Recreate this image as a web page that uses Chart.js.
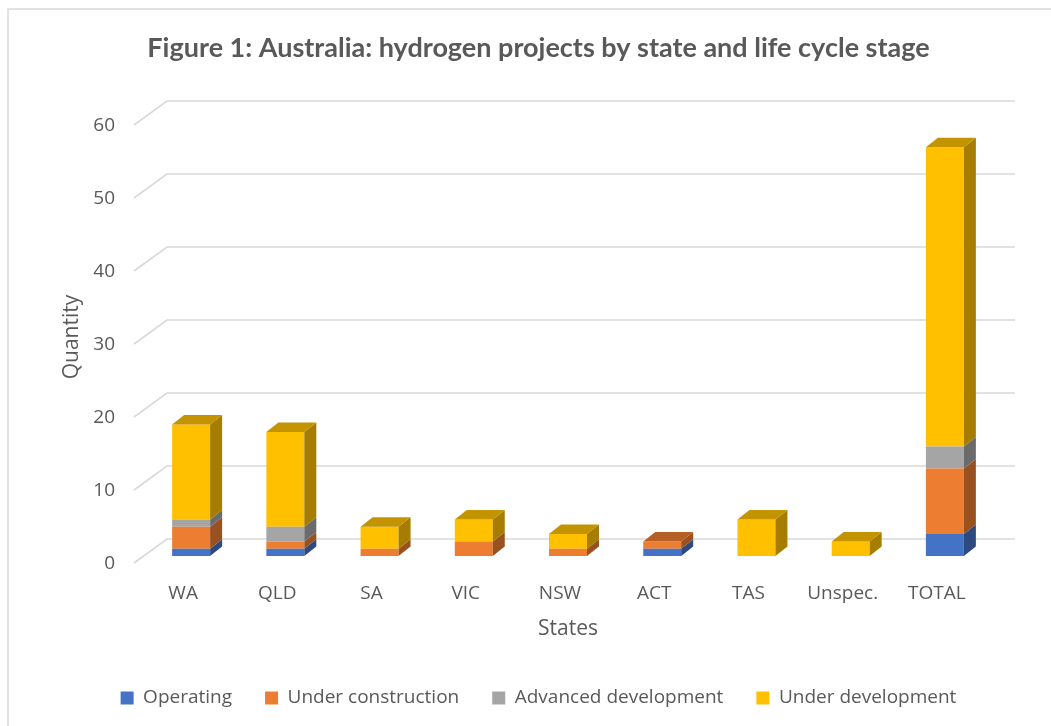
<!DOCTYPE html>
<html><head><meta charset="utf-8">
<script src="https://cdn.jsdelivr.net/npm/chart.js@4.4.0/dist/chart.umd.min.js"></script>
<style>html,body{margin:0;padding:0;background:#fff;}</style>
</head><body>
<canvas id="c" width="1051" height="726"></canvas>
<script>
const categories = ['WA','QLD','SA','VIC','NSW','ACT','TAS','Unspec.','TOTAL'];
const operating = [1,1,0,0,0,1,0,0,3];
const underConstruction = [3,1,1,2,1,1,0,0,9];
const advancedDevelopment = [1,2,0,0,0,0,0,0,3];
const underDevelopment = [13,13,3,3,2,0,5,2,41];
const seriesNames = ['Operating','Under construction','Advanced development','Under development'];
const seriesColors = ['#4472C4','#ED7D31','#A5A5A5','#FFC000'];
const yMin = 0, yMax = 60, yStep = 10;

function shade(hex, f){
  const n = parseInt(hex.slice(1),16);
  const r = Math.round(((n>>16)&255)*f), g = Math.round(((n>>8)&255)*f), b = Math.round((n&255)*f);
  return 'rgb('+r+','+g+','+b+')';
}
const TXT = '#595959';
const GRID = '#D9D9D9';

const depthPlugin = {
  id: 'depth3d',
  beforeDraw(chart){
    const ctx = chart.ctx;
    ctx.save();
    ctx.fillStyle = '#fff';
    ctx.fillRect(0,0,chart.width,chart.height);
    ctx.strokeStyle = GRID; ctx.lineWidth = 1.5;
    ctx.strokeRect(8, 9, chart.width + 20, chart.height + 20);
    ctx.restore();
  },
  beforeDatasetsDraw(chart){
    const ctx = chart.ctx, a = chart.chartArea, y = chart.scales.y;
    ctx.save();
    ctx.strokeStyle = GRID; ctx.lineWidth = 1.6;
    y.ticks.forEach(t => {
      const py = y.getPixelForValue(t.value);
      ctx.beginPath();
      ctx.moveTo(a.left - 10, py + 7);
      ctx.lineTo(a.left + 23, py - 17);
      ctx.lineTo(a.right + 23, py - 17);
      ctx.stroke();
    });
    ctx.restore();
  },
  afterDatasetsDraw(chart){
    const ctx = chart.ctx, DX = 12, DY = 9.5;
    ctx.save();
    const n = chart.data.labels.length;
    for (let i = 0; i < n; i++){
      let top = null, topColor = null;
      chart.data.datasets.forEach((ds, d) => {
        const el = chart.getDatasetMeta(d).data[i];
        if (!el || !ds.data[i]) return;
        const p = el.getProps(['x','y','base','width'], true);
        const r = p.x + p.width/2;
        ctx.fillStyle = shade(ds.backgroundColor, 0.65);
        ctx.beginPath();
        ctx.moveTo(r, p.base); ctx.lineTo(r + DX, p.base - DY);
        ctx.lineTo(r + DX, p.y - DY); ctx.lineTo(r, p.y); ctx.closePath();
        ctx.fill();
        top = p; topColor = ds.backgroundColor;
      });
      if (top){
        const l = top.x - top.width/2, r = top.x + top.width/2;
        ctx.fillStyle = shade(topColor, 0.77);
        ctx.beginPath();
        ctx.moveTo(l, top.y); ctx.lineTo(l + DX, top.y - DY);
        ctx.lineTo(r + DX, top.y - DY); ctx.lineTo(r, top.y); ctx.closePath();
        ctx.fill();
      }
    }
    ctx.restore();
  }
};

const seriesData = [operating, underConstruction, advancedDevelopment, underDevelopment];
const datasets = seriesNames.map((name, k) => ({
  label: name,
  data: seriesData[k],
  backgroundColor: seriesColors[k],
  borderWidth: 0,
  categoryPercentage: 1,
  barPercentage: 0.403,
  stack: 's'
}));

new Chart(document.getElementById('c'), {
  type: 'bar',
  data: { labels: categories, datasets },
  plugins: [depthPlugin],
  options: {
    responsive: false,
    animation: false,
    devicePixelRatio: 1,
    layout: { padding: { left: 26, right: 0, top: 0, bottom: 8.5 } },
    plugins: {
      title: {
        display: true,
        text: 'Figure 1: Australia: hydrogen projects by state and life cycle stage',
        color: TXT,
        font: { family: 'Lato', size: 27, weight: 'bold', lineHeight: 1.2 },
        padding: { top: 31.8, bottom: 53.8 }
      },
      legend: {
        position: 'bottom',
        labels: {
          boxWidth: 13, boxHeight: 13, padding: 33, color: TXT,
          font: { family: 'Open Sans', size: 19 }
        }
      },
      tooltip: { enabled: false }
    },
    scales: {
      x: {
        stacked: true,
        grid: { display: false, drawTicks: false },
        border: { display: false },
        ticks: { color: TXT, font: { family: 'Open Sans', size: 19 }, padding: 26, labelOffset: -8, maxRotation: 0 },
        title: { display: true, text: 'States', color: TXT, font: { family: 'Open Sans', size: 21, lineHeight: 1.2 }, padding: { top: 0, bottom: 13.9 } },
        afterFit(s){ s.height = 99.5; }
      },
      y: {
        stacked: true,
        min: yMin, max: yMax,
        grid: { display: false, drawTicks: false },
        border: { display: false },
        ticks: { stepSize: yStep, color: TXT, font: { family: 'Open Sans', size: 19 }, padding: 29, labelOffset: 8 },
        title: { display: true, text: 'Quantity', color: TXT, font: { family: 'Open Sans', size: 21, lineHeight: 1.2 }, padding: { top: 33.4, bottom: 0 } },
        afterFit(s){ s.width = 118; }
      },
      yR: {
        type: 'linear',
        position: 'right',
        display: true,
        grid: { display: false, drawTicks: false },
        border: { display: false },
        ticks: { display: false },
        afterFit(s){ s.width = 59; }
      }
    }
  }
});
</script>
</body></html>
